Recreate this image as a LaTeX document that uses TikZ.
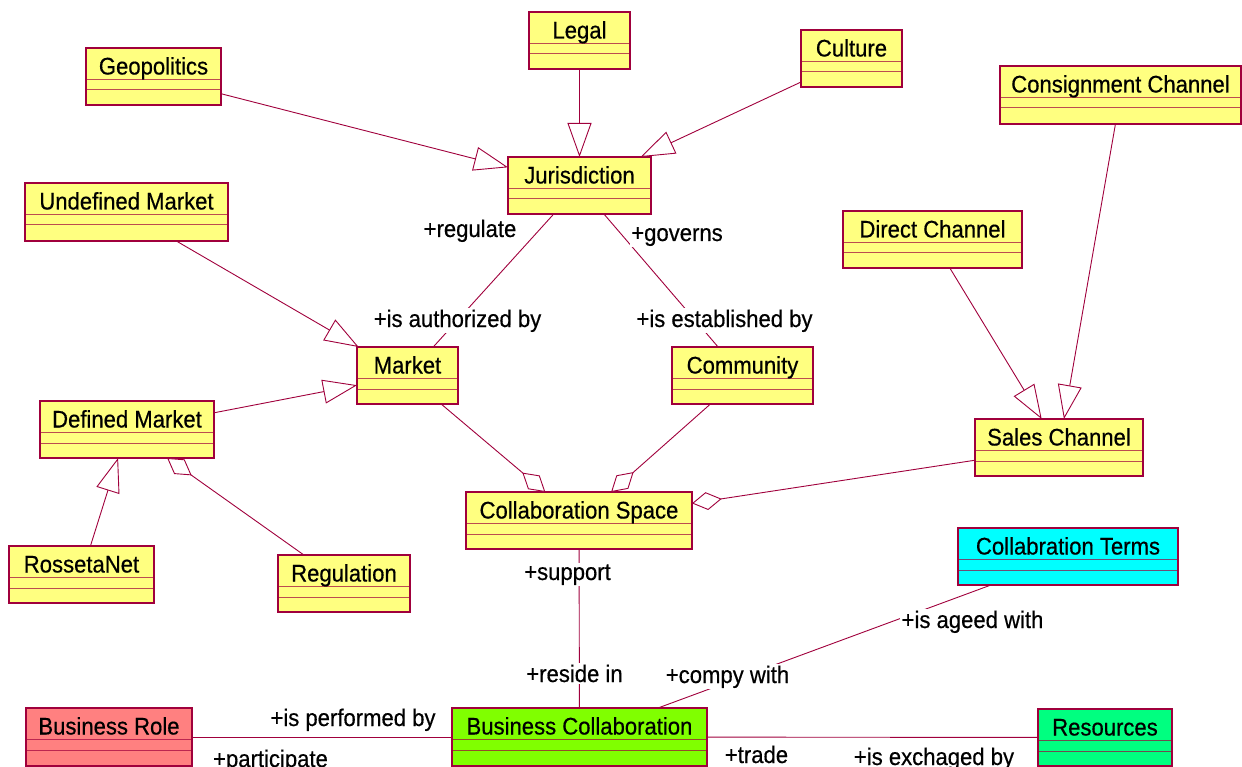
\documentclass[tikz,border=0pt]{standalone}
\usepackage{fontspec}
\setmainfont{Liberation Sans}[FakeStretch=0.92, FakeBold=0.5]
\usetikzlibrary{arrows.meta}

\definecolor{umlline}{RGB}{160,0,60}
\definecolor{clsyellow}{RGB}{255,255,128}
\definecolor{clssalmon}{RGB}{255,128,128}
\definecolor{clslime}{RGB}{128,255,0}
\definecolor{clsmint}{RGB}{0,255,128}
\definecolor{clscyan}{RGB}{0,255,255}

\tikzset{
  cls/.style={draw=umlline, line width=1.2pt, inner sep=0pt, outer sep=0pt, anchor=north west},
  div/.style={draw=umlline, draw opacity=0.7, line width=1pt},
  title/.style={font=\fontsize{24}{28}\selectfont, anchor=base, inner sep=0pt},
  role/.style={font=\fontsize{24}{28}\selectfont, fill=white, inner sep=1.5pt, anchor=base},
  conn/.style={draw=umlline, line width=0.9pt},
  gen/.style={conn, -{Triangle[open, length=34pt, width=24pt, fill=white]}},
  agg/.style={conn, {Diamond[open, length=30pt, width=18pt, fill=white]}-},
}

% UML class box: name, x1, y1, x2, y2, fill, title
\newcommand\umlclass[7]{%
  \node[cls, fill=#6, minimum width={(#4-#2)*1pt}, minimum height={(#5-#3)*1pt}] (#1) at (#2,#3) {};
  \draw[div] ([yshift=-31.5pt]#1.north west) -- ([yshift=-31.5pt]#1.north east);
  \draw[div] ([yshift=-42pt]#1.north west) -- ([yshift=-42pt]#1.north east);
  \node[title] (#1-name) at ([yshift=-26.5pt]#1.north) {#7};
}

\begin{document}
\begin{tikzpicture}[x=1pt,y=-1pt]
\useasboundingbox (0,0) rectangle (1242,767);

% classes
\umlclass{geo}{86}{48}{221}{105}{clsyellow}{Geopolitics}
\umlclass{legal}{529}{12}{630}{69}{clsyellow}{Legal}
\umlclass{culture}{801}{30}{902}{87}{clsyellow}{Culture}
\umlclass{consign}{1000}{66}{1241}{124}{clsyellow}{Consignment Channel}
\umlclass{jur}{508}{157}{651}{214}{clsyellow}{Jurisdiction}
\umlclass{undef}{25}{183}{228}{241}{clsyellow}{Undefined Market}
\umlclass{direct}{843}{211}{1022}{268}{clsyellow}{Direct Channel}
\umlclass{market}{357}{347}{458}{404}{clsyellow}{Market}
\umlclass{community}{672}{347}{813}{404}{clsyellow}{Community}
\umlclass{defined}{40}{401}{214}{458}{clsyellow}{Defined Market}
\umlclass{sales}{975}{419}{1143}{476}{clsyellow}{Sales Channel}
\umlclass{cspace}{466}{492}{692}{549}{clsyellow}{Collaboration Space}
\umlclass{terms}{958}{528}{1178}{585}{clscyan}{Collabration Terms}
\umlclass{rosseta}{9}{546}{154}{603}{clsyellow}{RossetaNet}
\umlclass{regulation}{278}{555}{410}{612}{clsyellow}{Regulation}
\umlclass{brole}{26}{708}{192}{766}{clssalmon}{Business Role}
\umlclass{bcollab}{452}{708}{707}{766}{clslime}{Business Collaboration}
\umlclass{resources}{1038}{709}{1172}{766}{clsmint}{Resources}

% generalizations
\draw[gen] (geo) -- (jur);
\draw[gen] (legal) -- (jur);
\draw[gen] (culture) -- (jur);
\draw[gen] (undef) -- (market);
\draw[gen] (defined) -- (market);
\draw[gen] (rosseta) -- (defined);
\draw[gen] (direct) -- (sales);
\draw[gen] (consign) -- (sales);

% aggregations
\draw[agg] (defined) -- (regulation);
\draw[agg] (cspace) -- (market);
\draw[agg] (cspace) -- (community);
\draw[agg] (cspace) -- (sales);

% associations
\draw[conn] (jur) -- (market);
\draw[conn] (jur) -- (community);
\draw[conn] (cspace) -- (bcollab);
\draw[conn] (terms) -- (bcollab);
\draw[conn] (brole) -- (bcollab);
\draw[conn] (bcollab) -- (resources);

% role names
\node[role] (r-regulate) at (470,237) {+regulate};
\node[role] (r-governs) at (677,241) {+governs};
\node[role] (r-authorized) at (457.5,327) {+is authorized by};
\node[role] (r-established) at (724.5,327) {+is established by};
\node[role] (r-support) at (567.5,580) {+support};
\node[role] (r-reside) at (574.5,682) {+reside in};
\node[role] (r-comply) at (727.5,683) {+compy with};
\node[role] (r-agreed) at (972.5,628) {+is ageed with};
\node[role] (r-performed) at (353,726) {+is performed by};
\node[role] (r-participate) at (270.5,767) {+participate};
\node[role] (r-trade) at (756.5,763) {+trade};
\node[role] (r-exchanged) at (934,765) {+is exchaged by};
\end{tikzpicture}
\end{document}
